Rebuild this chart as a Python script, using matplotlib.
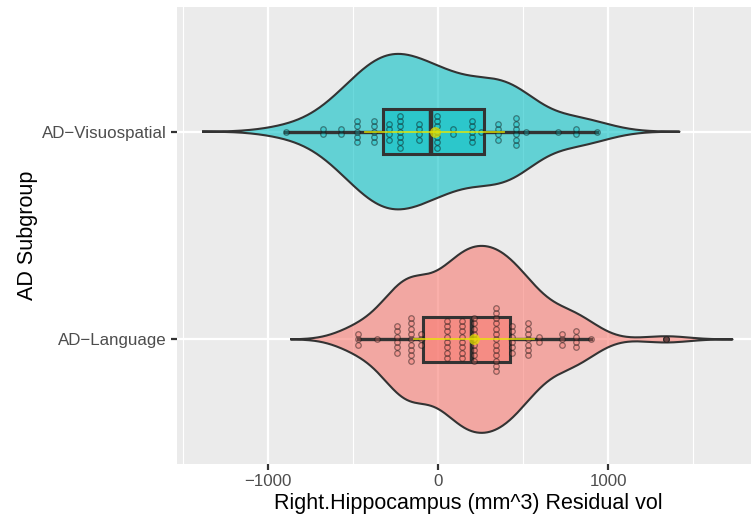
import matplotlib.pyplot as plt
import numpy as np
from matplotlib.colors import to_rgba

plt.rcParams["font.family"] = ["Liberation Sans", "DejaVu Sans"]

groups = ["AD\u2212Language", "AD\u2212Visuospatial"]
colors = ["#F8766D", "#00BFC4"]

# dotplot stacks: bin centre and number of subjects in the bin
lang_bins = [-472, -357, -243, -161, -100, 51, 139, 212, 339, 437, 531, 594, 728, 812, 900, 1341]
lang_counts = [3, 1, 6, 9, 3, 8, 8, 9, 13, 6, 7, 2, 3, 4, 1, 1]
vis_bins = [-894, -678, -571, -475, -375, -290, -224, -112, -8, 90, 202, 253, 355, 457, 518, 708, 810, 933]
vis_counts = [1, 2, 2, 5, 5, 4, 7, 4, 7, 2, 5, 1, 4, 6, 1, 1, 2, 1]

# boxplot summaries
q1 = [-88, -326]
med = [200, -41]
q3 = [421, 271]
whislo = [-472, -900]
whishi = [902, 935]
outliers = [[1341], []]

# mean +/- sd
means = [212, -20]
sds = [352, 408]

bins = [lang_bins, vis_bins]
counts = [lang_counts, vis_counts]
positions = [1, 2]


def violin(vals):
    # gaussian kde with bw.nrd0, extended 3 bandwidths past the data
    n = len(vals)
    sd = vals.std(ddof=1)
    iqr = np.subtract(*np.percentile(vals, [75, 25]))
    bw = 0.9 * min(sd, iqr / 1.34) * n ** -0.2
    xs = np.linspace(vals.min() - 3 * bw, vals.max() + 3 * bw, 512)
    d = np.exp(-0.5 * ((xs[:, None] - vals[None, :]) / bw) ** 2).sum(1)
    return xs, d / (n * bw * np.sqrt(2 * np.pi))


fig = plt.figure(figsize=(7.51, 5.21), dpi=100)
ax = fig.add_axes([176.5 / 751, 1 - 464 / 521, 583 / 751, 457 / 521])
ax.set_facecolor("#EBEBEB")
for s in ax.spines.values():
    s.set_visible(False)

profiles = [violin(np.repeat(b, c).astype(float)) for b, c in zip(bins, counts)]
dmax = max(p[1].max() for p in profiles)

for i, pos in enumerate(positions):
    xs, d = profiles[i]
    w = 0.45 * d / dmax
    ax.fill_between(xs, pos - w, pos + w, facecolor=to_rgba(colors[i], 0.58), edgecolor="none", zorder=2)
    ax.plot(np.r_[xs, xs[::-1], xs[:1]], np.r_[pos + w, (pos - w)[::-1], pos + w[:1]],
            color="#333333", lw=1.5, zorder=2.1)

    stats = [dict(med=med[i], q1=q1[i], q3=q3[i], whislo=whislo[i], whishi=whishi[i],
                  fliers=outliers[i])]
    ax.bxp(stats, positions=[pos], widths=0.22, orientation="horizontal", patch_artist=True,
           showcaps=False, manage_ticks=False, zorder=3,
           boxprops=dict(facecolor=to_rgba(colors[i], 0.55), edgecolor="#333333", lw=2.2),
           medianprops=dict(color="#333333", lw=3.2),
           whiskerprops=dict(color="#333333", lw=2.4),
           flierprops=dict(marker="o", markersize=4, markerfacecolor="#333333",
                           markeredgecolor="#333333"))

    # centred dot stacks
    step = 0.0255
    for b, c in zip(bins[i], counts[i]):
        ys = pos + (np.arange(c) - (c - 1) / 2) * step
        ax.scatter(np.full(c, b), ys, s=16, facecolor=to_rgba(colors[i], 0.3),
                   edgecolor=to_rgba("#111111", 0.45), linewidth=0.9, zorder=4)

    ax.plot([means[i] - sds[i], means[i] + sds[i]], [pos, pos], color=to_rgba("#E8E800", 0.8),
            lw=1.3, zorder=5)
    ax.plot(means[i], pos, "o", ms=7.8, color=to_rgba("#E5E000", 0.75), mec="none", zorder=5)

ax.set_xlim(-1538, 1891)
ax.set_ylim(0.4, 2.6)
ax.set_xticks([-1000, 0, 1000])
ax.set_xticks([-1500, -500, 500, 1500], minor=True)
ax.set_yticks(positions)
ax.set_yticklabels(groups)
ax.grid(which="major", color="white", lw=1.6, zorder=0)
ax.grid(which="minor", axis="x", color="white", lw=0.8, zorder=0)
ax.set_axisbelow(True)
ax.tick_params(which="major", length=4, width=1.6, color="#333333", labelcolor="#4D4D4D",
               labelsize=12.2, pad=3)
ax.tick_params(which="minor", length=0)

ax.set_xlabel("Right.Hippocampus (mm^3) Residual vol", fontsize=15.5, labelpad=3)
ax.set_ylabel("AD Subgroup", fontsize=15.5, labelpad=3)

fig.savefig("out.png", dpi=100)
